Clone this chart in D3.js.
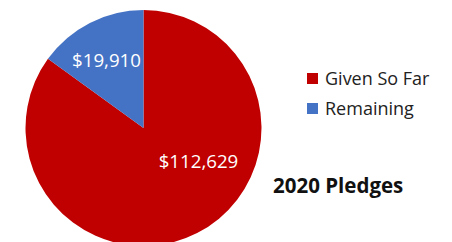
<!DOCTYPE html>
<html>
<head>
<meta charset="utf-8">
<script src="https://cdn.jsdelivr.net/npm/d3@7"></script>
<style>
  body { margin: 0; background: #fff; }
  text { font-family: "Open Sans", sans-serif; }
</style>
</head>
<body>
<script>
const w = 452;
const h = 242;

const categories = ["Given So Far", "Remaining"];
const values = [112629, 19910];
const colours = ["#C00000", "#4472C4"];
const title = "2020 Pledges";

const cx = 143.5, cy = 128, radius = 118;

let svg = d3.select("body").append("svg")
    .attr("width", w)
    .attr("height", h);

let data = categories.map((c, i) => ({ name: c, value: values[i], colour: colours[i] }));

let pie = d3.pie().sort(null).value(d => d.value);
let arc = d3.arc().innerRadius(0).outerRadius(radius);

let g = svg.append("g").attr("transform", "translate(" + cx + "," + cy + ")");

let slices = pie(data);

g.selectAll("path")
    .data(slices)
    .enter()
    .append("path")
    .attr("d", arc)
    .attr("fill", d => d.data.colour);

// value labels
g.selectAll(".valueLabel")
    .data(slices)
    .enter()
    .append("text")
    .attr("class", "valueLabel")
    .attr("x", d => d.index === 0 ? 55 : -37)
    .attr("y", d => d.index === 0 ? 40 : -61)
    .attr("text-anchor", "middle")
    .style("font-size", "18.7px")
    .style("fill", "#fff")
    .text(d => "$" + d3.format(",")(d.data.value));

// legend
let legend = svg.selectAll(".legend")
    .data(data)
    .enter()
    .append("g")
    .attr("class", "legend")
    .attr("transform", (d, i) => "translate(307," + (73 + i * 30) + ")");

legend.append("rect")
    .attr("width", 11)
    .attr("height", 11)
    .attr("fill", d => d.colour);

legend.append("text")
    .attr("x", 18)
    .attr("y", 12)
    .style("font-size", "18px")
    .style("fill", "#222")
    .text(d => d.name);

svg.append("text")
    .attr("x", 273)
    .attr("y", 193)
    .style("font-size", "20.5px")
    .style("font-weight", "bold")
    .style("fill", "#111")
    .text(title);
</script>
</body>
</html>
